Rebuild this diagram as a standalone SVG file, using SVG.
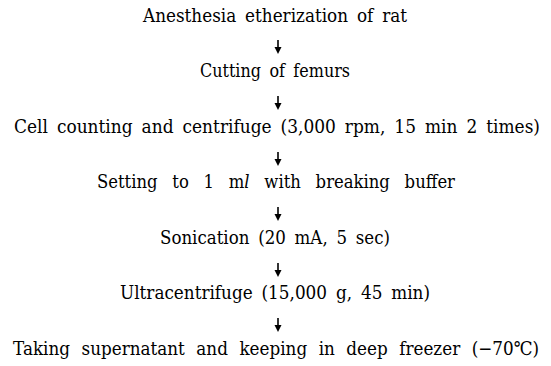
<svg xmlns="http://www.w3.org/2000/svg" width="551" height="366" viewBox="0 0 551 366">
<style>
.t{font-family:'DejaVu Serif','Liberation Serif',serif;font-size:19px;fill:#000;text-anchor:middle;word-spacing:4px}
.c line{stroke:#000;stroke-width:1.6}
.c path{fill:#000}
</style>
<rect width="551" height="366" fill="#fff"/>
<g id="n1"><text class="t" x="275" y="22" textLength="264" lengthAdjust="spacingAndGlyphs">Anesthesia etherization of rat</text></g>
<g id="n2"><text class="t" x="275" y="77" textLength="150" lengthAdjust="spacingAndGlyphs">Cutting of femurs</text></g>
<g id="n3"><text class="t" x="277" y="133" textLength="526" lengthAdjust="spacingAndGlyphs">Cell counting and centrifuge (3,000 rpm, 15 min 2 times)</text></g>
<g id="n4"><text class="t" x="276" y="188" textLength="358" lengthAdjust="spacingAndGlyphs" style="word-spacing:11px">Setting to 1 m<tspan font-style="italic">l</tspan> with breaking buffer</text></g>
<g id="n5"><text class="t" x="275" y="244" textLength="230" lengthAdjust="spacingAndGlyphs">Sonication (20 mA, 5 sec)</text></g>
<g id="n6"><text class="t" x="275" y="299" textLength="310" lengthAdjust="spacingAndGlyphs">Ultracentrifuge (15,000 g, 45 min)</text></g>
<g id="n7"><text class="t" x="276" y="355" textLength="526" lengthAdjust="spacingAndGlyphs" style="word-spacing:7px">Taking supernatant and keeping in deep freezer (−70℃)</text></g>
<g id="connectors" class="c">
<line x1="278" y1="40" x2="278" y2="48"/><path d="M274.5,47 L281.5,47 L278,54 Z"/>
<line x1="278" y1="96" x2="278" y2="104"/><path d="M274.5,103 L281.5,103 L278,110 Z"/>
<line x1="278" y1="152" x2="278" y2="160"/><path d="M274.5,159 L281.5,159 L278,166 Z"/>
<line x1="278" y1="207" x2="278" y2="215"/><path d="M274.5,214 L281.5,214 L278,221 Z"/>
<line x1="278" y1="263" x2="278" y2="271"/><path d="M274.5,270 L281.5,270 L278,277 Z"/>
<line x1="278" y1="318" x2="278" y2="326"/><path d="M274.5,325 L281.5,325 L278,332 Z"/>
</g>
</svg>
